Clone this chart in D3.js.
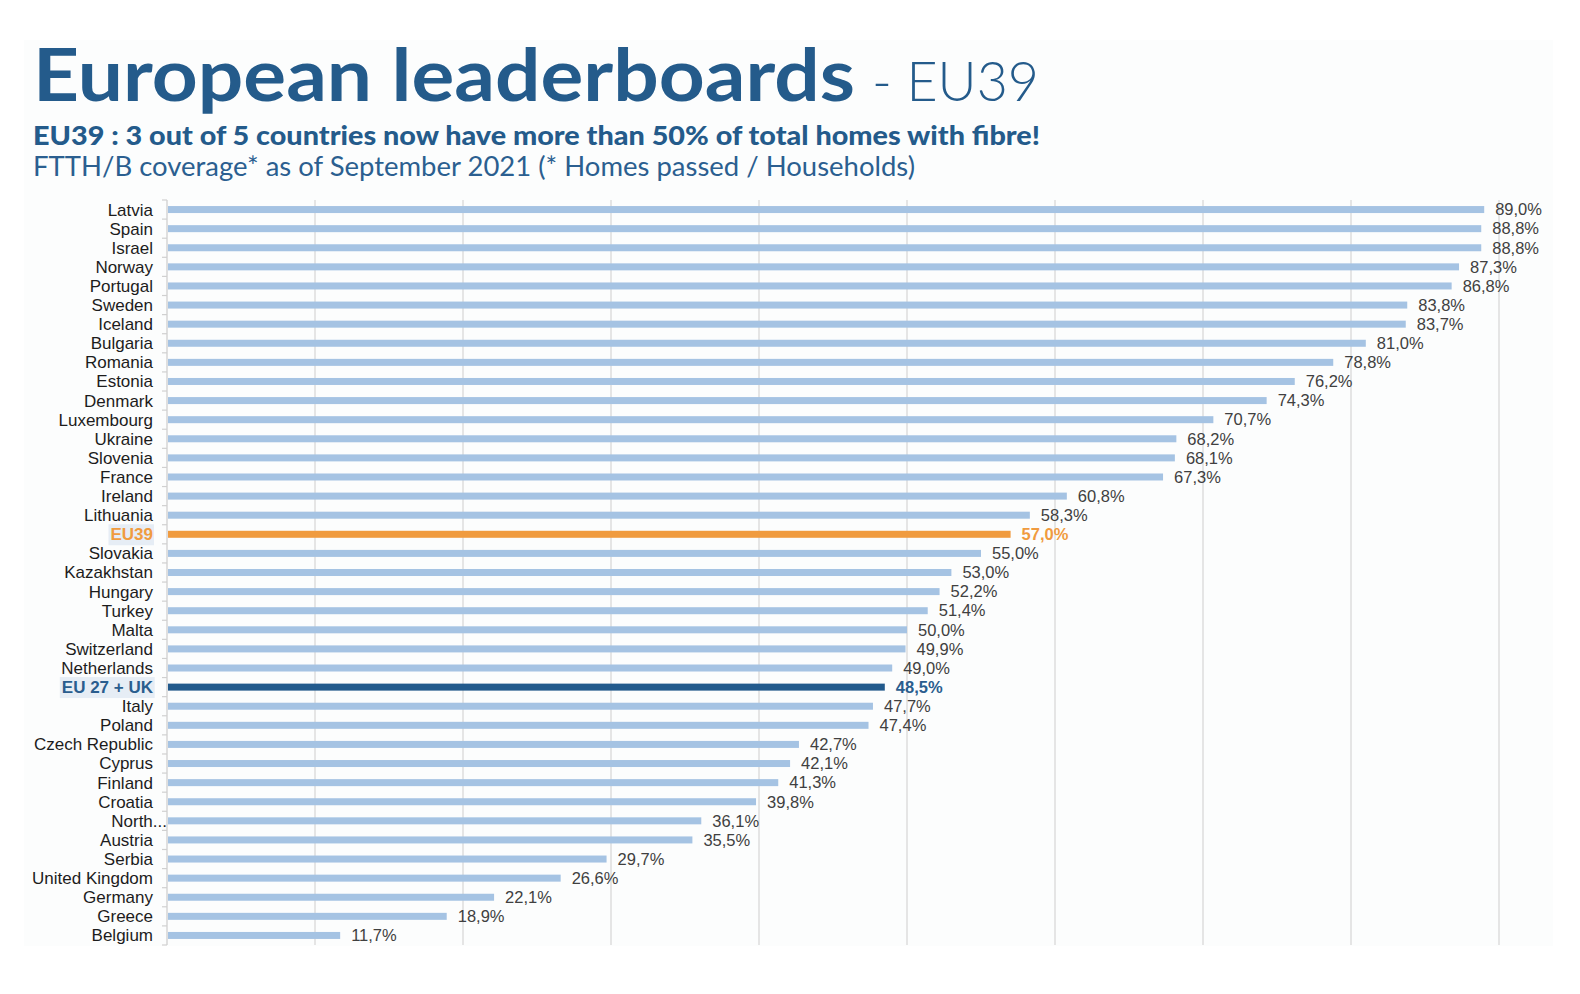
<!DOCTYPE html>
<html>
<head>
<meta charset="utf-8">
<script src="https://cdn.jsdelivr.net/npm/d3@7"></script>
<style>
  html, body { margin: 0; padding: 0; background: #ffffff; }
  svg { display: block; }
</style>
</head>
<body>
<svg id="chart" width="1580" height="994"></svg>
<script>
// ---- data ----
const categories = ["Latvia","Spain","Israel","Norway","Portugal","Sweden","Iceland","Bulgaria","Romania","Estonia","Denmark","Luxembourg","Ukraine","Slovenia","France","Ireland","Lithuania","EU39","Slovakia","Kazakhstan","Hungary","Turkey","Malta","Switzerland","Netherlands","EU 27 + UK","Italy","Poland","Czech Republic","Cyprus","Finland","Croatia","North...","Austria","Serbia","United Kingdom","Germany","Greece","Belgium"];
const coverage = [89.0,88.8,88.8,87.3,86.8,83.8,83.7,81.0,78.8,76.2,74.3,70.7,68.2,68.1,67.3,60.8,58.3,57.0,55.0,53.0,52.2,51.4,50.0,49.9,49.0,48.5,47.7,47.4,42.7,42.1,41.3,39.8,36.1,35.5,29.7,26.6,22.1,18.9,11.7];
const gridTicks = [0,10,20,30,40,50,60,70,80,90];
const highlights = ["EU39", "EU 27 + UK"];
const titleMain = "European leaderboards";
const titleSuffix = "- EU39";
const subtitle = "EU39 : 3 out of 5 countries now have more than 50% of total homes with fibre!";
const note = "FTTH/B coverage* as of September 2021 (* Homes passed / Households)";

// ---- styles ----
const colBar = "#a5c3e3", colEU39 = "#f09b3f", colEU27 = "#225a8c";
const titleBlue = "#245b8b";
const data = categories.map((c, i) => ({ name: c, value: coverage[i] }));

const svg = d3.select("#chart");

// faint panel
svg.append("rect").attr("x", 24).attr("y", 40).attr("width", 1529).attr("height", 906)
  .attr("fill", "#fcfdfd");

// titles
svg.append("text").attr("x", 33).attr("y", 101)
  .attr("font-family", "Lato, 'Open Sans', sans-serif").attr("font-weight", 700)
  .attr("font-size", 72).attr("fill", titleBlue)
  .attr("textLength", 822).attr("lengthAdjust", "spacingAndGlyphs")
  .text(titleMain);
svg.append("text").attr("x", 872).attr("y", 101)
  .attr("font-family", "Lato, 'Open Sans', sans-serif").attr("font-weight", 300)
  .attr("font-size", 56).attr("fill", titleBlue)
  .attr("textLength", 167).attr("lengthAdjust", "spacingAndGlyphs")
  .text(titleSuffix);
svg.append("text").attr("x", 33).attr("y", 145)
  .attr("font-family", "Lato, 'Open Sans', sans-serif").attr("font-weight", 900)
  .attr("font-size", 26).attr("fill", titleBlue)
  .attr("textLength", 1007).attr("lengthAdjust", "spacingAndGlyphs")
  .text(subtitle);
svg.append("text").attr("x", 33).attr("y", 176)
  .attr("font-family", "Lato, 'Open Sans', sans-serif").attr("font-weight", 400)
  .attr("font-size", 26).attr("fill", "#2b5f90")
  .attr("textLength", 882).attr("lengthAdjust", "spacingAndGlyphs")
  .text(note);

// scales
const x = d3.scaleLinear().domain([0, 90]).range([167, 1499]);
const y = d3.scaleBand().domain(categories).range([200, 945]).padding(0);
const barH = 7;

// gridlines
svg.append("g").selectAll("line").data(gridTicks.slice(1)).join("line")
  .attr("x1", d => x(d)).attr("x2", d => x(d))
  .attr("y1", y.range()[0]).attr("y2", y.range()[1])
  .attr("stroke", "#d9d9d9").attr("stroke-width", 1.3);

// left axis line + tick marks between categories
svg.append("line").attr("x1", x(0)).attr("x2", x(0))
  .attr("y1", y.range()[0]).attr("y2", y.range()[1])
  .attr("stroke", "#d0d0d0").attr("stroke-width", 1.3);
const bounds = categories.map(c => y(c)).concat([y.range()[1]]);
svg.append("g").selectAll("line").data(bounds).join("line")
  .attr("x1", x(0) - 5).attr("x2", x(0))
  .attr("y1", d => d).attr("y2", d => d)
  .attr("stroke", "#d0d0d0").attr("stroke-width", 1.2);

// bars
const barColor = d => d.name === "EU39" ? colEU39 : (d.name === "EU 27 + UK" ? colEU27 : colBar);
svg.append("g").selectAll("rect").data(data).join("rect")
  .attr("x", x(0) + 1)
  .attr("y", d => y(d.name) + (y.bandwidth() - barH) / 2)
  .attr("width", d => x(d.value) - x(0) - 1)
  .attr("height", barH)
  .attr("fill", barColor);

// category labels (with highlight boxes)
const labG = svg.append("g");
const labels = labG.selectAll("text").data(data).join("text")
  .attr("x", d => d.name === "North..." ? 167 : 153)
  .attr("y", d => y(d.name) + y.bandwidth() / 2)
  .attr("dy", "0.35em")
  .attr("text-anchor", "end")
  .attr("font-family", "'Liberation Sans', Arial, sans-serif")
  .attr("font-size", 17)
  .attr("font-weight", d => highlights.includes(d.name) ? 700 : 400)
  .attr("fill", d => d.name === "EU39" ? colEU39 : (d.name === "EU 27 + UK" ? "#2a5d8e" : "#1c1c1c"))
  .text(d => d.name);
labels.filter(d => highlights.includes(d.name)).each(function () {
  const b = this.getBBox();
  labG.insert("rect", ":first-child")
    .attr("x", b.x - 2).attr("y", b.y - 1)
    .attr("width", b.width + 3).attr("height", b.height + 2)
    .attr("fill", "#e6edf5");
});

// value labels
const fmt = v => d3.format(".1f")(v).replace(".", ",") + "%";
svg.append("g").selectAll("text").data(data).join("text")
  .attr("x", d => x(d.value) + 11)
  .attr("y", d => y(d.name) + y.bandwidth() / 2)
  .attr("dy", "0.35em")
  .attr("font-family", "'Liberation Sans', Arial, sans-serif")
  .attr("font-size", 16.5)
  .attr("font-weight", d => highlights.includes(d.name) ? 700 : 400)
  .attr("fill", d => d.name === "EU39" ? colEU39 : (d.name === "EU 27 + UK" ? "#2a5d8e" : "#404040"))
  .text(d => fmt(d.value));
</script>
</body>
</html>
